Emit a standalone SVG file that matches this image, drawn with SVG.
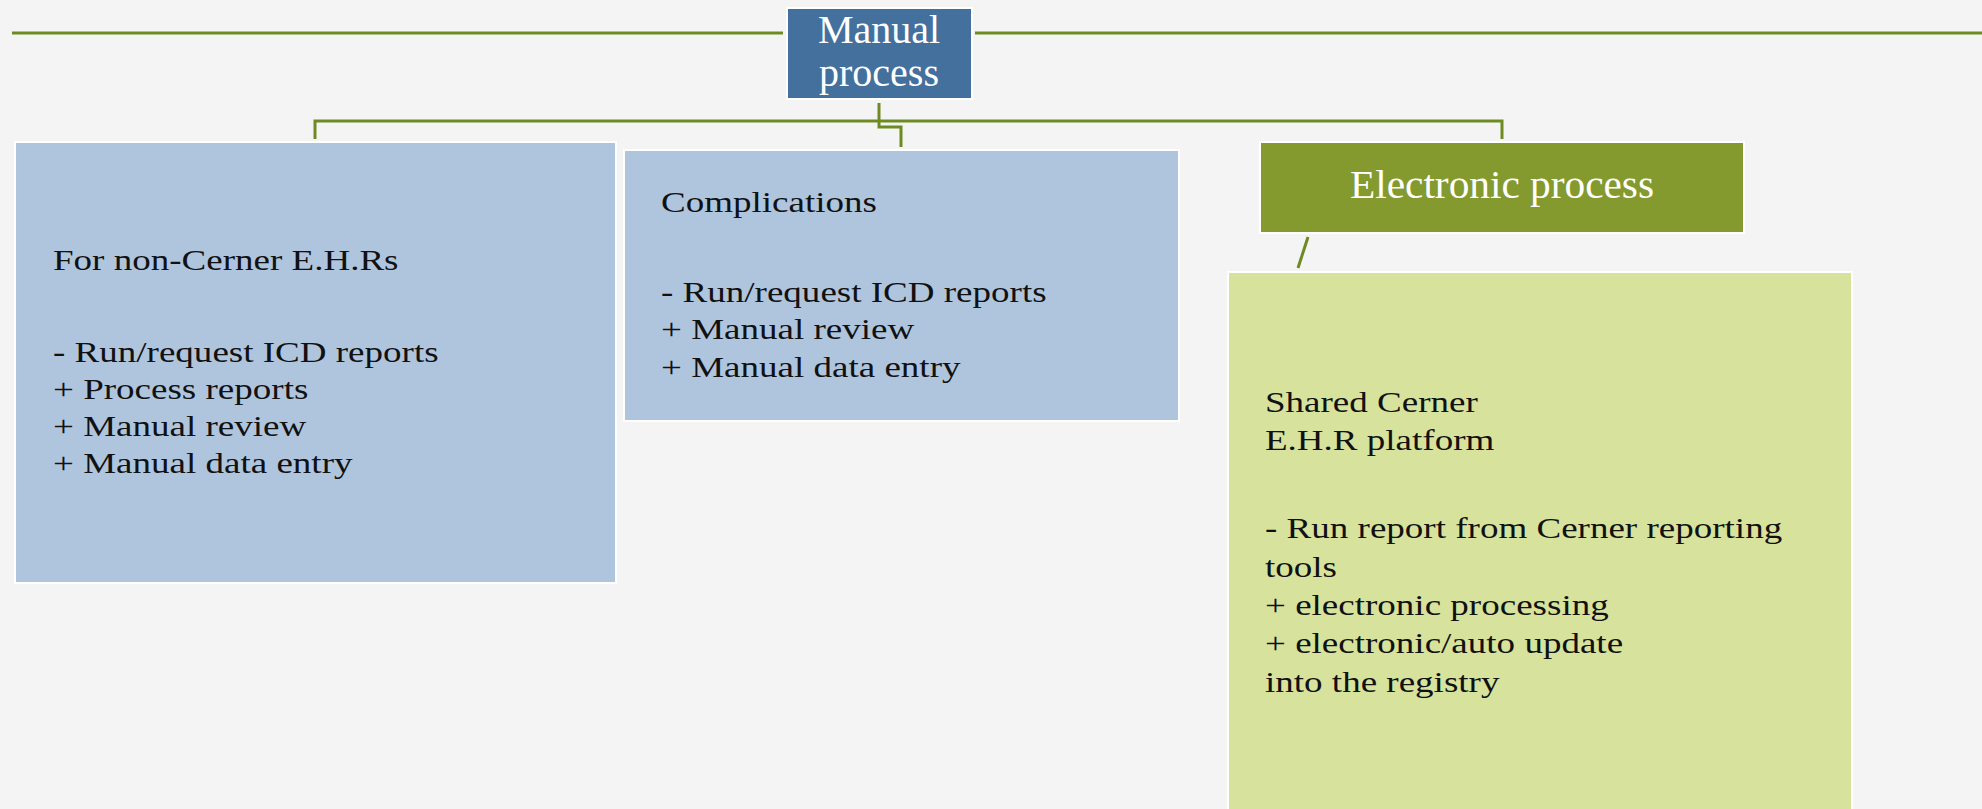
<svg xmlns="http://www.w3.org/2000/svg" width="1982" height="809" viewBox="0 0 1982 809">
<style>
.bg{fill:#f4f4f4}
.conn{fill:none;stroke:#6e8a22;stroke-width:3}
.box{stroke:#ffffff;stroke-width:2}
.t{font-family:"Liberation Serif","Times New Roman",serif;font-size:30px;fill:#111111}
.tw{font-family:"Liberation Serif","Times New Roman",serif;font-size:40px;fill:#ffffff;text-anchor:middle}
</style>
<rect class="bg" x="0" y="0" width="1982" height="809"/>
<g id="connectors">
<line class="conn" x1="12" y1="33" x2="783" y2="33"/>
<line class="conn" x1="975" y1="33" x2="1982" y2="33"/>
<polyline class="conn" points="315,139 315,121 1502,121 1502,139"/>
<polyline class="conn" points="879,103 879,127 901,127 901,147"/>
<line class="conn" x1="1308" y1="237" x2="1298" y2="268"/>
</g>
<g id="manual-process">
<rect class="box" x="787" y="8" width="185" height="91" fill="#44709d"/>
<text class="tw" x="879" y="43">Manual</text>
<text class="tw" x="879" y="86">process</text>
</g>
<g id="non-cerner">
<rect class="box" x="15" y="142" width="601" height="441" fill="#afc5dd"/>
<g transform="translate(53,0) scale(1.235,1)">
<text class="t" x="0" y="270">For non-Cerner E.H.Rs</text>
<text class="t" x="0" y="362">- Run/request ICD reports</text>
<text class="t" x="0" y="399">+ Process reports</text>
<text class="t" x="0" y="436">+ Manual review</text>
<text class="t" x="0" y="473">+ Manual data entry</text>
</g>
</g>
<g id="complications">
<rect class="box" x="624" y="150" width="555" height="271" fill="#afc5dd"/>
<g transform="translate(661,0) scale(1.235,1)">
<text class="t" x="0" y="212">Complications</text>
<text class="t" x="0" y="302">- Run/request ICD reports</text>
<text class="t" x="0" y="339">+ Manual review</text>
<text class="t" x="0" y="377">+ Manual data entry</text>
</g>
</g>
<g id="electronic-process">
<rect class="box" x="1260" y="142" width="484" height="91" fill="#849a2e"/>
<text class="tw" x="1502" y="198" textLength="304" lengthAdjust="spacingAndGlyphs">Electronic process</text>
</g>
<g id="shared-cerner">
<rect class="box" x="1228" y="272" width="624" height="540" fill="#d7e39d"/>
<g transform="translate(1265,0) scale(1.235,1)">
<text class="t" x="0" y="412">Shared Cerner</text>
<text class="t" x="0" y="450">E.H.R platform</text>
<text class="t" x="0" y="538">- Run report from Cerner reporting</text>
<text class="t" x="0" y="577">tools</text>
<text class="t" x="0" y="615">+ electronic processing</text>
<text class="t" x="0" y="653">+ electronic/auto update</text>
<text class="t" x="0" y="692">into the registry</text>
</g>
</g>
</svg>
